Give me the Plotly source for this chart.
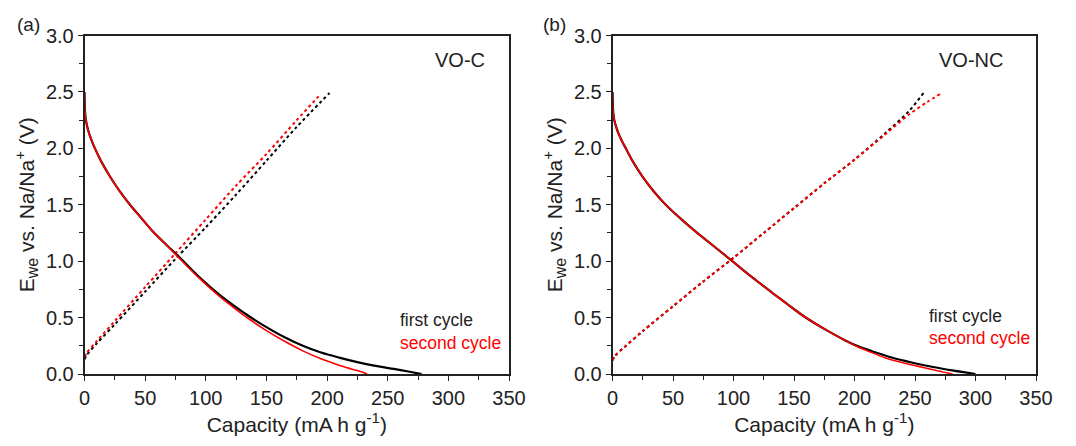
import plotly.graph_objects as go

# ---- Panel (a) VO-C ----
a_dis1_x = [0, 0.2, 0.6, 1.5, 3, 5.5, 8.6, 14, 21, 29, 37.5, 47, 56.6, 67, 78.7, 95, 111.6, 124, 136, 150, 165, 180, 195, 210, 225, 240, 255, 267, 278]
a_dis1_y = [2.5, 2.4, 2.3, 2.23, 2.16, 2.08, 2.0, 1.88, 1.75, 1.62, 1.5, 1.38, 1.26, 1.15, 1.03, 0.855, 0.7, 0.6, 0.51, 0.415, 0.325, 0.25, 0.19, 0.145, 0.105, 0.072, 0.045, 0.022, 0.0]
a_dis2_x = [0, 0.2, 0.6, 1.5, 3, 5.5, 8.6, 14, 21, 29, 37.5, 47, 56.6, 67, 78.7, 95, 111.6, 124, 136, 150, 165, 180, 195, 208, 220, 228, 233]
a_dis2_y = [2.5, 2.4, 2.3, 2.23, 2.16, 2.08, 2.0, 1.88, 1.75, 1.62, 1.5, 1.38, 1.26, 1.15, 1.02, 0.845, 0.685, 0.58, 0.485, 0.385, 0.29, 0.205, 0.135, 0.085, 0.045, 0.02, 0.0]
a_ch1_x = [0, 2, 10, 25, 50, 75, 100, 125, 150, 175, 202]
a_ch1_y = [0.13, 0.17, 0.27, 0.44, 0.73, 1.02, 1.30, 1.59, 1.89, 2.19, 2.49]
a_ch2_x = [0, 2, 10, 25, 50, 75, 100, 125, 150, 175, 193]
a_ch2_y = [0.15, 0.19, 0.29, 0.47, 0.77, 1.07, 1.37, 1.67, 1.95, 2.25, 2.46]

# ---- Panel (b) VO-NC ----
b_dis1_x = [0, 0.2, 0.6, 1.5, 3, 5, 8, 11, 17, 24.8, 34, 44, 57, 70, 84, 99, 115, 132, 145, 159, 175, 192, 203, 215, 230, 248, 265, 282, 300]
b_dis1_y = [2.5, 2.42, 2.32, 2.25, 2.19, 2.13, 2.06, 2.0, 1.88, 1.75, 1.62, 1.5, 1.37, 1.25, 1.13, 1.0, 0.86, 0.72, 0.615, 0.505, 0.4, 0.3, 0.245, 0.2, 0.148, 0.1, 0.062, 0.03, 0.0]
b_dis2_x = [0, 0.2, 0.6, 1.5, 3, 5, 8, 11, 17, 24.8, 34, 44, 57, 70, 84, 99, 115, 132, 145, 159, 175, 192, 203, 212, 225, 240, 252, 262, 272, 281]
b_dis2_y = [2.5, 2.42, 2.32, 2.25, 2.19, 2.13, 2.06, 2.0, 1.88, 1.75, 1.62, 1.5, 1.37, 1.25, 1.13, 1.0, 0.86, 0.72, 0.615, 0.505, 0.4, 0.3, 0.24, 0.2, 0.145, 0.1, 0.07, 0.045, 0.02, 0.0]
b_ch1_x = [0, 2, 10, 25, 50, 75, 100, 125, 150, 175, 200, 225, 245, 257]
b_ch1_y = [0.12, 0.16, 0.24, 0.38, 0.6, 0.82, 1.03, 1.25, 1.47, 1.69, 1.9, 2.13, 2.33, 2.49]
b_ch2_x = [0, 2, 10, 25, 50, 75, 100, 125, 150, 175, 200, 225, 245, 260, 272]
b_ch2_y = [0.12, 0.16, 0.24, 0.38, 0.6, 0.82, 1.03, 1.25, 1.47, 1.69, 1.9, 2.12, 2.3, 2.41, 2.49]

x_ticks = [0, 50, 100, 150, 200, 250, 300, 350]
y_ticks = [0.0, 0.5, 1.0, 1.5, 2.0, 2.5, 3.0]
y_ticktext = ["0.0", "0.5", "1.0", "1.5", "2.0", "2.5", "3.0"]

BLACK = "#000000"
RED = "#ff0000"
W, H = 1076, 446

fig = go.Figure()

def add(x, y, color, dash, xa, ya, width):
    fig.add_trace(go.Scatter(x=x, y=y, mode="lines", xaxis=xa, yaxis=ya, showlegend=False,
                             line=dict(color=color, width=width, dash=dash, shape="spline", smoothing=0.8)))

add(a_ch1_x, a_ch1_y, BLACK, "dot", "x", "y", 2)
add(a_ch2_x, a_ch2_y, RED, "dot", "x", "y", 2)
add(a_dis1_x, a_dis1_y, BLACK, "solid", "x", "y", 2.2)
add(a_dis2_x, a_dis2_y, RED, "solid", "x", "y", 1.6)
add(b_ch1_x, b_ch1_y, BLACK, "dot", "x2", "y2", 2)
add(b_ch2_x, b_ch2_y, RED, "dot", "x2", "y2", 2)
add(b_dis1_x, b_dis1_y, BLACK, "solid", "x2", "y2", 2.2)
add(b_dis2_x, b_dis2_y, RED, "solid", "x2", "y2", 1.6)

FONT = "Liberation Sans, Arial, sans-serif"
TXT = "#222222"

def xax(dom, anchor):
    return dict(domain=dom, anchor=anchor, range=[0, 350], tickmode="array", tickvals=x_ticks,
                showline=True, linecolor="#222", linewidth=1.5, mirror=True, showgrid=False, zeroline=False,
                ticks="outside", ticklen=5, tickwidth=1.2, tickcolor="#222",
                minor=dict(dtick=25, ticks="outside", ticklen=4, tickwidth=1.2, tickcolor="#222", showgrid=False),
                tickfont=dict(family=FONT, size=20, color=TXT),
                title=dict(text="Capacity (mA h g<sup><span style='font-size:15px'>-1</span></sup>)",
                           font=dict(family=FONT, size=21, color=TXT), standoff=8),
                automargin=False)

def yax(anchor):
    return dict(domain=[1 - 374 / H, 1 - 35.5 / H], anchor=anchor, range=[0, 3.0], tickmode="array",
                tickvals=y_ticks, ticktext=y_ticktext,
                showline=True, linecolor="#222", linewidth=1.5, mirror=True, showgrid=False, zeroline=False,
                ticks="outside", ticklen=5, tickwidth=1.2, tickcolor="#222",
                minor=dict(dtick=0.25, ticks="outside", ticklen=4, tickwidth=1.2, tickcolor="#222", showgrid=False),
                tickfont=dict(family=FONT, size=20, color=TXT),
                title=dict(text="E<sub><span style='font-size:16px'>we</span></sub> vs. Na/Na<sup><span style='font-size:15px'>+</span></sup> (V)",
                           font=dict(family=FONT, size=21, color=TXT), standoff=6),
                automargin=False)

fig.update_layout(
    width=W, height=H, margin=dict(l=0, r=0, t=0, b=0),
    plot_bgcolor="white", paper_bgcolor="white",
    xaxis=xax([84.5 / W, 509 / W], "y"),
    yaxis=yax("x"),
    xaxis2=xax([612.5 / W, 1036 / W], "y2"),
    yaxis2=yax("x2"),
)

def px(xp, yp, text, size, color=TXT, xanchor="left"):
    fig.add_annotation(x=xp / W, y=1 - yp / H, xref="paper", yref="paper", text=text, showarrow=False,
                       xanchor=xanchor, yanchor="middle", font=dict(family=FONT, size=size, color=color))

px(15, 24, "(a)", 19)
px(541, 24, "(b)", 19)
px(433, 60, "VO-C", 20)
px(937, 60, "VO-NC", 20)
px(398, 320, "first cycle", 17.5, "#222222")
px(398, 343, "second cycle", 17.5, RED)
px(927, 316, "first cycle", 17.5, "#222222")
px(927, 338, "second cycle", 17.5, RED)

fig.write_html("out.html")
